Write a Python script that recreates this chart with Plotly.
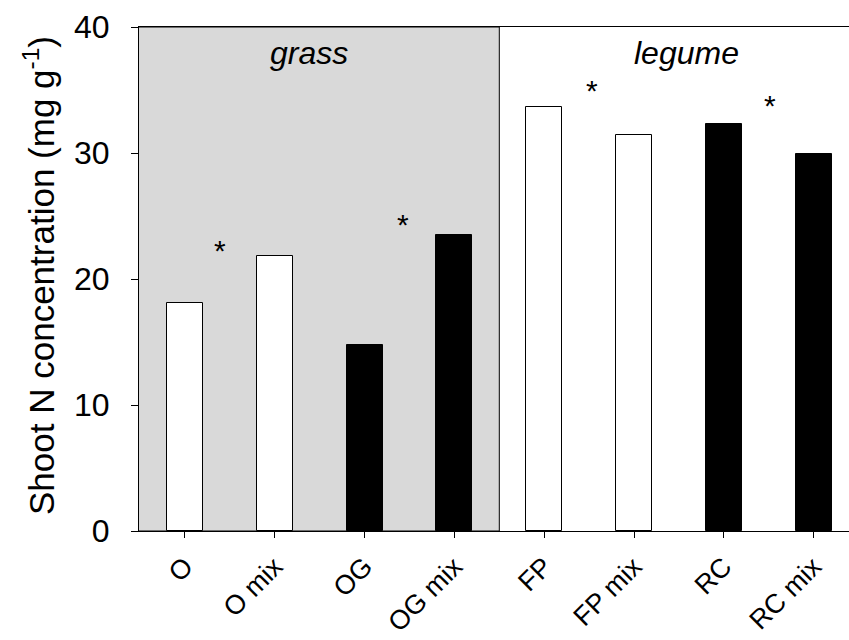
import plotly.graph_objects as go

categories = ["O", "O mix", "OG", "OG mix", "FP", "FP mix", "RC", "RC mix"]
values = [18.1, 21.8, 14.8, 23.5, 33.65, 31.4, 32.3, 29.9]
bar_colors = ["white", "white", "black", "black", "white", "white", "black", "black"]

star_x = [0.39, 2.43, 4.53, 6.51]
star_y = [22.9, 24.9, 35.6, 34.4]

group_labels = ["grass", "legume"]
group_x = [1.38, 5.59]
group_y = [37.9, 37.9]

yticks = [0, 10, 20, 30, 40]
y_title = "Shoot N concentration (mg g<sup>-1</sup>)"

FONT = "Liberation Sans, Arial, sans-serif"

xs = list(range(len(categories)))

fig = go.Figure()
fig.add_trace(go.Bar(
    x=xs, y=values, width=0.4,
    marker=dict(color=bar_colors, line=dict(color="black", width=1)),
    showlegend=False, hoverinfo="skip",
))

fig.add_shape(type="rect", xref="x", yref="y", x0=-0.52, x1=3.5, y0=0, y1=40,
              fillcolor="#d9d9d9", line=dict(color="black", width=1), layer="below")

for sx, sy in zip(star_x, star_y):
    fig.add_annotation(x=sx, y=sy - 0.6, text="*", showarrow=False,
                       font=dict(family=FONT, size=30, color="black"),
                       xanchor="center", yanchor="middle")

for gl, gx, gy in zip(group_labels, group_x, group_y):
    fig.add_annotation(x=gx, y=gy, text="<i>%s</i>" % gl, showarrow=False,
                       font=dict(family=FONT, size=32, color="black"),
                       xanchor="center", yanchor="middle")

# y-axis title as an annotation for exact placement
fig.add_annotation(xref="paper", yref="paper", x=(39 - 139) / 710, y=0.506,
                   text=y_title, textangle=-90, showarrow=False,
                   font=dict(family=FONT, size=35, color="black"),
                   xanchor="center", yanchor="middle")

fig.update_layout(
    width=849, height=640,
    margin=dict(l=139, r=0, t=27, b=109, autoexpand=False),
    paper_bgcolor="white", plot_bgcolor="white",
    font=dict(family=FONT, color="black"),
    bargap=0,
)
fig.update_xaxes(
    range=[-0.512, 7.394], tickmode="array", tickvals=xs, ticktext=categories,
    tickangle=-45, tickfont=dict(size=27, family=FONT, color="black"),
    showline=True, linecolor="black", linewidth=1, mirror=True,
    ticks="outside", ticklen=6, tickcolor="black", ticklabelstandoff=2,
    showgrid=False, zeroline=False, automargin=False,
)
fig.update_yaxes(
    range=[0, 40], tickmode="array", tickvals=yticks,
    tickfont=dict(size=32, family=FONT, color="black"),
    showline=True, linecolor="black", linewidth=1,
    ticks="outside", ticklen=7, tickcolor="black", ticklabelstandoff=15,
    showgrid=False, zeroline=False, automargin=False,
)

fig.write_html("out.html")
